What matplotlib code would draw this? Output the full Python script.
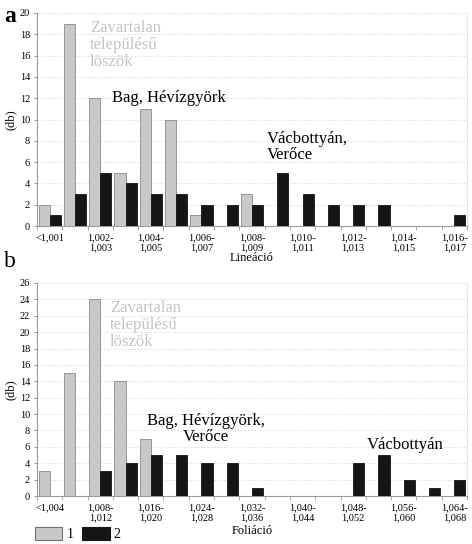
import numpy as np
import matplotlib
matplotlib.use("Agg")
import matplotlib.pyplot as plt
from matplotlib.patches import Patch

# ---- data ----
ticks_a = ["<1,001", "", "1,002-\n1,003", "", "1,004-\n1,005", "", "1,006-\n1,007", "",
           "1,008-\n1,009", "", "1,010-\n1,011", "", "1,012-\n1,013", "", "1,014-\n1,015", "",
           "1,016-\n1,017"]
gray_a = [2, 19, 12, 5, 11, 10, 1, 0, 3, 0, 0, 0, 0, 0, 0, 0, 0]
black_a = [1, 3, 5, 4, 3, 3, 2, 2, 2, 5, 3, 2, 2, 2, 0, 0, 1]

ticks_b = ["<1,004", "", "1,008-\n1,012", "", "1,016-\n1,020", "", "1,024-\n1,028", "",
           "1,032-\n1,036", "", "1,040-\n1,044", "", "1,048-\n1,052", "", "1,056-\n1,060", "",
           "1,064-\n1,068"]
gray_b = [3, 15, 24, 14, 7, 0, 0, 0, 0, 0, 0, 0, 0, 0, 0, 0, 0]
black_b = [0, 0, 3, 4, 5, 5, 4, 4, 1, 0, 0, 0, 4, 5, 2, 1, 2]

legend_labels = ["1", "2"]

plt.rcParams['font.family'] = ['Liberation Serif', 'DejaVu Serif']

GRAY = "#c8c8c8"
GRAY_EDGE = "#8a8a8a"
BLACK = "#151515"
TXT_GRAY = "#c4c4c4"

fig = plt.figure(figsize=(4.72, 5.44), dpi=100)
W, H = 472, 544


def px_axes(left, right, top, bottom):
    return fig.add_axes([left / W, 1 - bottom / H, (right - left) / W, (bottom - top) / H])


def draw(ax, ticks, gray, black, ymax, xlabel, xlabelpad):
    n = len(ticks)
    x = np.arange(n)
    w = 0.44
    ax.bar(x - w / 2, gray, width=w, color=GRAY, edgecolor=GRAY_EDGE, linewidth=0.6, zorder=3)
    ax.bar(x + w / 2, black, width=w, color=BLACK, edgecolor=BLACK, linewidth=0.6, zorder=3)
    ax.set_xlim(-0.5, n - 0.5)
    ax.set_ylim(0, ymax)
    ax.set_yticks(np.arange(0, ymax + 1, 2))
    ax.yaxis.grid(True, color="#d8d8d8", linestyle=(0, (2, 2)), linewidth=0.6, zorder=0)
    ax.set_xticks(x)
    ax.set_xticklabels(ticks, fontsize=7.5, linespacing=1.15)
    ax.set_xticks(np.arange(-0.5, n, 1), minor=True)
    ax.tick_params(axis='x', which='major', length=0, pad=5)
    ax.tick_params(axis='x', which='minor', length=3, color="#999999")
    ax.tick_params(axis='y', length=2, color="#999999", labelsize=7.5, pad=3)
    ax.spines['top'].set_visible(False)
    ax.spines['right'].set_color("#e0e0e0")
    ax.spines['right'].set_linewidth(0.6)
    for s in ['left', 'bottom']:
        ax.spines[s].set_color("#9a9a9a")
        ax.spines[s].set_linewidth(0.8)
    ax.set_ylabel("(db)", fontsize=9, labelpad=2)
    ax.set_xlabel(xlabel, fontsize=9, labelpad=xlabelpad)


ax_a = px_axes(37, 467, 13, 226)
draw(ax_a, ticks_a, gray_a, black_a, 20, "Lineáció", 0)
ax_b = px_axes(37, 467, 283, 496)
draw(ax_b, ticks_b, gray_b, black_b, 26, "Foliáció", 2)

# panel letters
fig.text(4 / W, 1 - 22 / H, "a", fontsize=17, fontweight='bold', va='baseline')
fig.text(4 / W, 1 - 267 / H, "b", fontsize=17, va='baseline')

# annotations panel a
ax_a.text(90 / W, 1 - 20 / H, "Zavartalan\ntelepülésű\nlöszök", transform=fig.transFigure,
          fontsize=12, color=TXT_GRAY, va='top', ha='left', linespacing=1.1)
ax_a.text(112 / W, 1 - 98 / H, "Bag, Hévízgyörk", transform=fig.transFigure,
          fontsize=12, color="black", va='center', ha='left')
ax_a.text(267 / W, 1 - 131 / H, "Vácbottyán,\nVerőce", transform=fig.transFigure,
          fontsize=12, color="black", va='top', ha='left', linespacing=1.0)

# annotations panel b
ax_b.text(110 / W, 1 - 300 / H, "Zavartalan\ntelepülésű\nlöszök", transform=fig.transFigure,
          fontsize=12, color=TXT_GRAY, va='top', ha='left', linespacing=1.1)
ax_b.text(206 / W, 1 - 413 / H, "Bag, Hévízgyörk,\nVerőce", transform=fig.transFigure,
          fontsize=12, color="black", va='top', ha='center', linespacing=1.0)
ax_b.text(367 / W, 1 - 445 / H, "Vácbottyán", transform=fig.transFigure,
          fontsize=12, color="black", va='center', ha='left')

# legend
handles = [Patch(facecolor=GRAY, edgecolor="#707070", linewidth=0.8),
           Patch(facecolor=BLACK, edgecolor=BLACK, linewidth=0.8)]
fig.legend(handles, legend_labels, loc='lower left', bbox_to_anchor=(29 / W, -3 / H),
           ncol=2, frameon=False, fontsize=10, handlelength=2.0, handleheight=1.0,
           handletextpad=0.3, columnspacing=0.6, borderaxespad=0)

fig.savefig("out.png", dpi=100)
